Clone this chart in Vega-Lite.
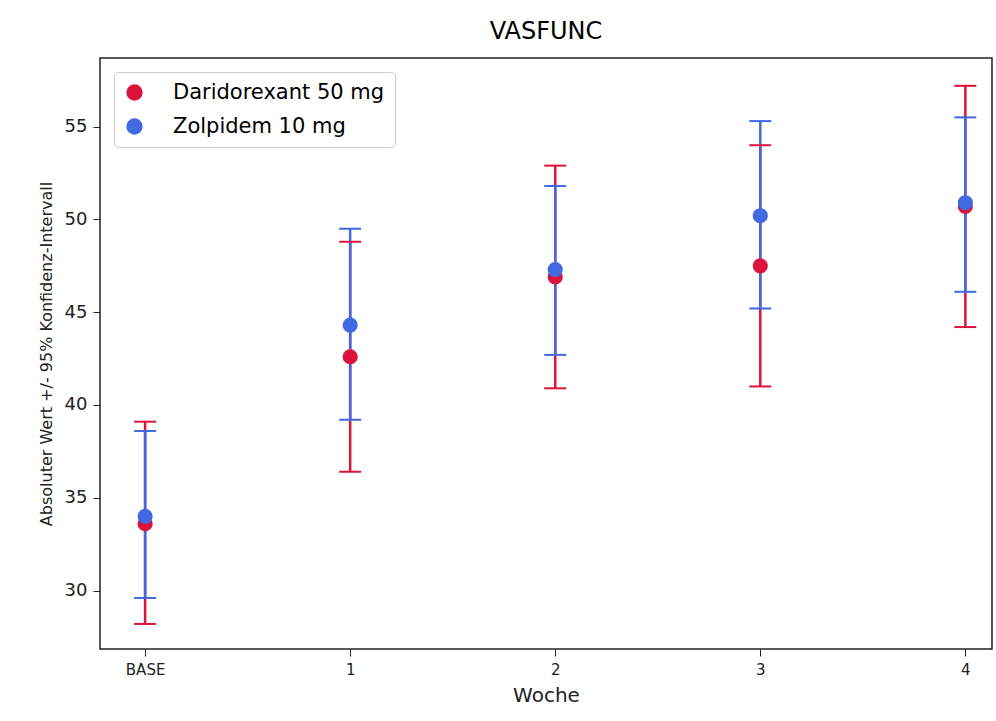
{
  "$schema": "https://vega.github.io/schema/vega-lite/v6.json",
  "autosize": {"type": "fit", "contains": "padding"},
  "width": 996,
  "height": 721,
  "padding": {"left": 38, "top": 20, "right": 4, "bottom": 16},
  "title": {"text": "VASFUNC", "fontSize": 24, "font": "DejaVu Sans", "fontWeight": "normal", "offset": 14},
  "config": {
    "font": "DejaVu Sans",
    "view": {"stroke": "#222", "strokeWidth": 1.5},
    "axis": {"grid": false, "domain": false, "tickColor": "#222", "labelColor": "#222", "titleColor": "#222", "titleFontWeight": "normal", "labelFontSize": 18, "titleFontSize": 16, "tickSize": 7, "labelPadding": 6}
  },
  "data": {
    "values": [
      {"woche": 0, "gruppe": "Daridorexant 50 mg", "mean": 33.6, "low": 28.2, "high": 39.1},
      {"woche": 1, "gruppe": "Daridorexant 50 mg", "mean": 42.6, "low": 36.4, "high": 48.8},
      {"woche": 2, "gruppe": "Daridorexant 50 mg", "mean": 46.9, "low": 40.9, "high": 52.9},
      {"woche": 3, "gruppe": "Daridorexant 50 mg", "mean": 47.5, "low": 41.0, "high": 54.0},
      {"woche": 4, "gruppe": "Daridorexant 50 mg", "mean": 50.7, "low": 44.2, "high": 57.2},
      {"woche": 0, "gruppe": "Zolpidem 10 mg", "mean": 34.0, "low": 29.6, "high": 38.6},
      {"woche": 1, "gruppe": "Zolpidem 10 mg", "mean": 44.3, "low": 39.2, "high": 49.5},
      {"woche": 2, "gruppe": "Zolpidem 10 mg", "mean": 47.3, "low": 42.7, "high": 51.8},
      {"woche": 3, "gruppe": "Zolpidem 10 mg", "mean": 50.2, "low": 45.2, "high": 55.3},
      {"woche": 4, "gruppe": "Zolpidem 10 mg", "mean": 50.9, "low": 46.1, "high": 55.5}
    ]
  },
  "encoding": {
    "x": {
      "field": "woche", "type": "quantitative",
      "scale": {"domain": [-0.22, 4.13], "nice": false, "zero": false},
      "axis": {"values": [0, 1, 2, 3, 4], "labelExpr": "datum.value == 0 ? 'BASE' : datum.label", "title": "Woche", "labelFontSize": 15, "titleFontSize": 20, "titlePadding": 8}
    },
    "color": {
      "field": "gruppe", "type": "nominal",
      "scale": {"domain": ["Daridorexant 50 mg", "Zolpidem 10 mg"], "range": ["#DC143C", "#4169E1"]},
      "legend": {"title": null, "orient": "top-left", "symbolType": "circle", "symbolSize": 220, "symbolOpacity": 1, "labelFontSize": 21, "labelLimit": 400, "padding": 10, "strokeColor": "#ccc", "fillColor": "white", "cornerRadius": 4, "rowPadding": 12, "labelOffset": 28, "offset": 14}
    }
  },
  "layer": [
    {
      "mark": {"type": "rule", "strokeWidth": 2.5},
      "encoding": {
        "y": {"field": "low", "type": "quantitative", "scale": {"domain": [26.85, 58.7], "nice": false, "zero": false},
          "axis": {"values": [30, 35, 40, 45, 50, 55], "title": "Absoluter Wert +/- 95% Konfidenz-Intervall", "titleFontSize": 16, "titlePadding": 10}},
        "y2": {"field": "high"}
      }
    },
    {
      "mark": {"type": "tick", "orient": "horizontal", "size": 22, "thickness": 2, "opacity": 1},
      "encoding": {"y": {"field": "low", "type": "quantitative"}}
    },
    {
      "mark": {"type": "tick", "orient": "horizontal", "size": 22, "thickness": 2, "opacity": 1},
      "encoding": {"y": {"field": "high", "type": "quantitative"}}
    },
    {
      "mark": {"type": "circle", "size": 230, "opacity": 1},
      "encoding": {"y": {"field": "mean", "type": "quantitative"}}
    }
  ]
}
